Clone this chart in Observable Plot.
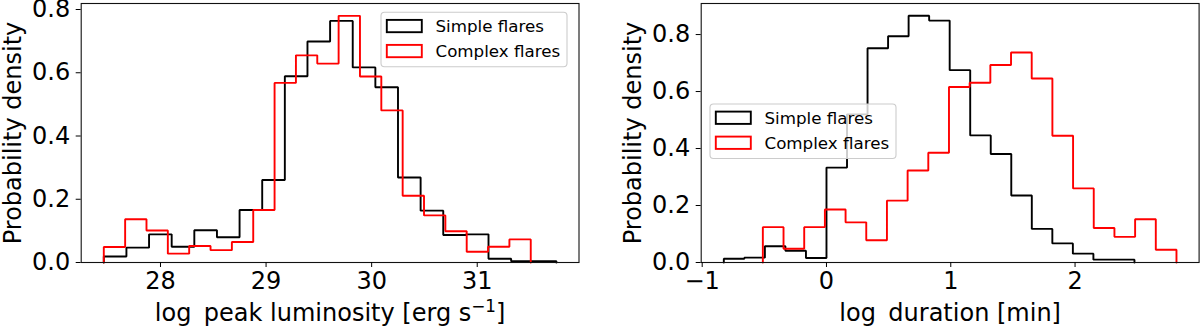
<!DOCTYPE html>
<html><head><meta charset="utf-8">
<script src="https://cdn.jsdelivr.net/npm/d3@7"></script>
<script src="https://cdn.jsdelivr.net/npm/@observablehq/plot@0.6"></script>
<style>
body{margin:0;background:#fff;}
#wrap{display:flex;width:1200px;height:328px;overflow:hidden;}
#wrap svg{font-family:"DejaVu Sans",sans-serif;display:block;}
</style></head><body><div id="wrap"></div>
<script>
// ---- data ----
const seriesNames = ["Simple flares", "Complex flares"];
const seriesColors = ["black", "red"];

// Left panel: log peak luminosity histograms (20 bins each, density)
const simpleLumRange = [27.463, 31.750];
const simpleLumDensity = [0.019, 0.047, 0.089, 0.050, 0.102, 0.080, 0.166, 0.261, 0.589, 0.699,
                          0.764, 0.617, 0.554, 0.269, 0.164, 0.087, 0.089, 0.012, 0.004, 0.004];
const complexLumRange = [27.463, 31.507];
const complexLumDensity = [0.049, 0.137, 0.101, 0.028, 0.052, 0.039, 0.065, 0.166, 0.568, 0.655,
                           0.629, 0.780, 0.588, 0.481, 0.211, 0.149, 0.099, 0.034, 0.050, 0.073];

// Right panel: log duration histograms
const simpleDurRange = [-0.826, 2.478];
const simpleDurDensity = [0.013, 0.017, 0.057, 0.041, 0.016, 0.333, 0.520, 0.752, 0.794, 0.866,
                          0.849, 0.675, 0.446, 0.381, 0.235, 0.118, 0.067, 0.031, 0.010, 0.010];
const complexDurRange = [-0.512, 2.816];
const complexDurDensity = [0.124, 0.048, 0.124, 0.186, 0.141, 0.078, 0.217, 0.323, 0.385, 0.616,
                           0.631, 0.693, 0.737, 0.646, 0.445, 0.260, 0.121, 0.090, 0.152, 0.045];

const lumTicks = [28, 29, 30, 31];
const durTicks = [-1, 0, 1, 2];
const yTicks = [0, 0.2, 0.4, 0.6, 0.8];
// label parts: [main text, superscript, tail]
const lumLabel = ["log\u2009 peak luminosity [erg s", "\u22121", "]"];
const durLabel = ["log\u2009 duration [min]", "", ""];
const yLabel = "Probability density";

// ---- helpers ----
function stepOutline([lo, hi], dens) {
  const n = dens.length, w = (hi - lo) / n;
  const pts = [{x: lo, y: 0}];
  dens.forEach((d, i) => pts.push({x: lo + i * w, y: d}));
  pts.push({x: hi, y: dens[n - 1]});
  pts.push({x: hi, y: 0});
  return pts;
}

const TICK_FS = 24, LABEL_FS = 24, LEG_FS = 16.7;

function panel({series, xDomain, yDomain, xTicks, xLabel, marginLeft, marginRight, legendPos}) {
  const marks = series.map((s, i) =>
    Plot.line(stepOutline(s.range, s.dens), {x: "x", y: "y", curve: "step-after",
      stroke: seriesColors[i], strokeWidth: 1.9, strokeLinejoin: "miter"}));
  const svg = Plot.plot({
    width: 600, height: 328,
    marginLeft, marginRight, marginTop: 3, marginBottom: 66,
    style: {fontFamily: "DejaVu Sans, sans-serif", background: "white", color: "black"},
    x: {domain: xDomain},
    y: {domain: yDomain},
    marks: [
      ...marks,
      Plot.frame({stroke: "#111", strokeWidth: 1.1}),
      Plot.axisX({ticks: xTicks, tickSize: 5, tickPadding: 4, fontSize: TICK_FS, label: null,
                  tickFormat: d => d3.format("d")(d)}),
      Plot.axisY({ticks: yTicks, tickSize: 5, tickPadding: 6, fontSize: TICK_FS, label: null,
                  tickFormat: d3.format(".1f")}),
      Plot.text([xLabel.join("")], {frameAnchor: "bottom", dy: 51, lineAnchor: "middle", textAnchor: "middle",
                           fontSize: LABEL_FS, text: d => d, className: "xlab"}),
      Plot.text([yLabel], {frameAnchor: "left", dx: -68, rotate: -90, lineAnchor: "middle", textAnchor: "middle",
                           fontSize: LABEL_FS, text: d => d})
    ]
  });
  // superscript in x label
  if (xLabel[1]) {
    const t = d3.select(svg).select(".xlab text");
    t.text(null);
    t.append("tspan").text(xLabel[0]);
    t.append("tspan").attr("dy", -9).style("font-size", (LABEL_FS * 0.7) + "px").text(xLabel[1]);
    t.append("tspan").attr("dy", 9).text(xLabel[2]);
  }
  // legend (matplotlib-style box)
  const g = d3.select(svg).append("g").attr("font-family", "DejaVu Sans, sans-serif").attr("text-anchor", "start");
  const [lx, ly] = legendPos, lw = 186, lh = 54.5;
  g.append("rect").attr("x", lx).attr("y", ly).attr("width", lw).attr("height", lh)
    .attr("rx", 3.5).attr("fill", "white").attr("fill-opacity", 0.8).attr("stroke", "#cccccc").attr("stroke-width", 1.1);
  seriesNames.forEach((name, i) => {
    const cy = ly + 13.7 + i * 25;
    g.append("rect").attr("x", lx + 5.8).attr("y", cy - 6.1).attr("width", 35).attr("height", 12.3)
      .attr("fill", "none").attr("stroke", seriesColors[i]).attr("stroke-width", 1.9);
    g.append("text").attr("x", lx + 54.5).attr("y", cy).attr("dy", "0.36em")
      .attr("text-anchor", "start").style("font-size", LEG_FS + "px").attr("fill", "black").text(name);
  });
  return svg;
}

const wrap = document.getElementById("wrap");
wrap.appendChild(panel({
  series: [{range: simpleLumRange, dens: simpleLumDensity}, {range: complexLumRange, dens: complexLumDensity}],
  xDomain: [27.249, 31.964], yDomain: [0, 0.819], xTicks: lumTicks, xLabel: lumLabel,
  marginLeft: 80.7, marginRight: 21.5, legendPos: [381, 12.3]
}));
wrap.appendChild(panel({
  series: [{range: simpleDurRange, dens: simpleDurDensity}, {range: complexDurRange, dens: complexDurDensity}],
  xDomain: [-1.008, 2.998], yDomain: [0, 0.909], xTicks: durTicks, xLabel: durLabel,
  marginLeft: 100.7, marginRight: 1.4, legendPos: [110, 104]
}));
</script></body></html>
